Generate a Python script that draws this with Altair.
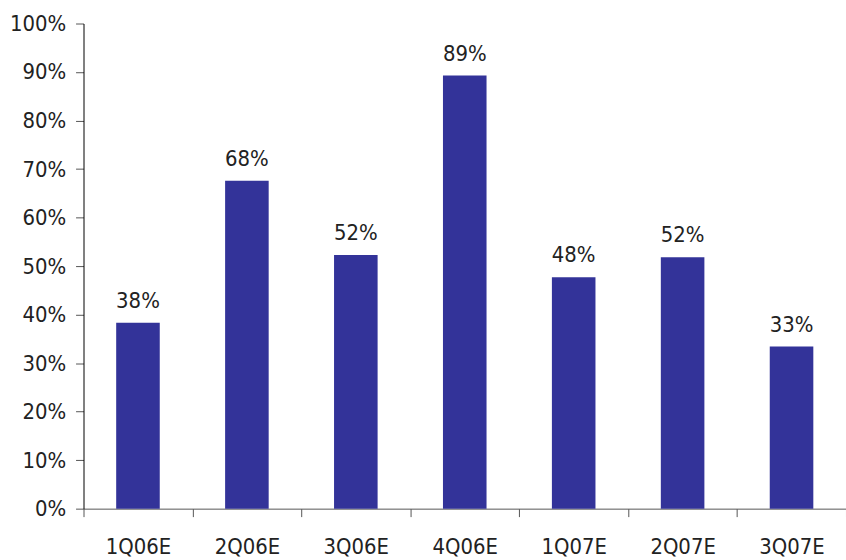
import altair as alt
import pandas as pd

quarters = ["1Q06E", "2Q06E", "3Q06E", "4Q06E", "1Q07E", "2Q07E", "3Q07E"]
values = [0.383, 0.676, 0.523, 0.893, 0.477, 0.518, 0.334]

df = pd.DataFrame({"quarter": quarters, "value": values})

FONT = "Liberation Sans Narrow, DejaVu Sans Condensed, sans-serif"

base = alt.Chart(df).encode(
    x=alt.X(
        "quarter:N",
        sort=quarters,
        scale=alt.Scale(paddingInner=0, paddingOuter=0),
        axis=alt.Axis(
            title=None,
            labelAngle=0,
            tickBand="extent",
            tickSize=8,
            labelPadding=20,
            labelFontSize=22,
            labelFont=FONT,
            labelColor="#222222",
            domainColor="#555555",
            tickColor="#555555",
            labelBaseline="top",
        ),
    ),
    y=alt.Y(
        "value:Q",
        scale=alt.Scale(domain=[0, 1], nice=False),
        axis=alt.Axis(
            title=None,
            format=".0%",
            values=[i / 10 for i in range(11)],
            grid=False,
            tickSize=8,
            labelPadding=10,
            labelFontSize=22,
            labelFont=FONT,
            labelColor="#222222",
            domainColor="#000000",
            tickColor="#555555",
        ),
    ),
)

bars = base.mark_bar(color="#333399", width=alt.RelativeBandSize(0.4))
labels = base.mark_text(
    baseline="alphabetic", dy=-15, fontSize=22, font=FONT, color="#222222"
).encode(text=alt.Text("value:Q", format=".0%"))

chart = (
    (bars + labels)
    .properties(
        width=767,
        height=488,
        autosize=alt.AutoSizeParams(type="none"),
        padding={"left": 84, "top": 22, "right": 0, "bottom": 50},
    )
    .configure(background="white")
    .configure_view(stroke=None)
)

chart.save("out.html", embed_options={"renderer": "svg", "actions": False})
